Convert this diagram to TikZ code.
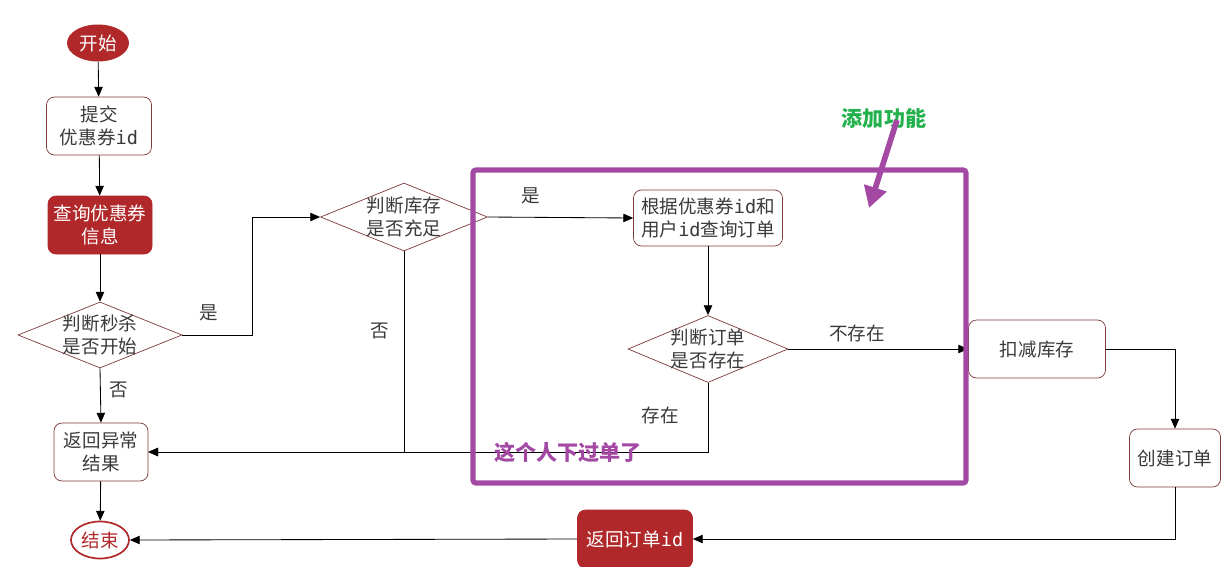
\documentclass[tikz,border=0pt]{standalone}
\usepackage{fontspec}
\setmainfont{Noto Sans CJK SC}
\newfontfamily\idfont{DejaVu Sans Mono}
\usetikzlibrary{shapes.geometric, arrows.meta}
\definecolor{flowRed}{HTML}{B0282A}
\definecolor{edgeRed}{HTML}{7D3A3A}
\definecolor{inkGray}{HTML}{3A3A3A}
\definecolor{markPurple}{HTML}{A349A4}
\definecolor{markGreen}{HTML}{22B14C}
\newcommand{\pxu}{0.025cm}
\newcommand{\idtxt}{{\idfont id}}
\tikzset{
    every node/.style={font=\fontsize{13.2}{16}\selectfont, text=inkGray, align=center},
    box/.style={draw=edgeRed, fill=white, rounded corners=0.2cm, line width=0.5pt,
        minimum width={#1*\pxu}, minimum height={58*\pxu}, inner sep=0pt},
    redbox/.style={box=#1, fill=flowRed, draw=flowRed, text=white},
    decision/.style={diamond, draw=edgeRed, fill=white, line width=0.5pt, inner sep=0pt},
    terminal/.style={ellipse, minimum width={#1*\pxu}, minimum height={37*\pxu}, inner sep=0pt},
    flow/.style={draw=black, line width=0.6pt, -{Triangle[length=7pt, width=6pt]}},
    tag/.style={font=\fontsize{15}{18}\selectfont\bfseries}
}

\begin{document}
\begin{tikzpicture}[x=0.025cm, y=-0.025cm]
    \useasboundingbox (0,0) rectangle (1221,566);

    % left column
    \node[terminal=62, fill=flowRed, text=white] (start) at (98,43) {开始};
    \node[box=105] (submit) at (99,126) {提交\\优惠券\idtxt};
    \node[redbox=104] (query) at (100,225) {查询优惠券\\信息};
    \node[decision, minimum width={164*\pxu}, minimum height={66*\pxu},
        label={center:判断秒杀\\是否开始}] (timing) at (100,335) {};
    \node[box=94] (errRet) at (101,452) {返回异常\\结果};
    \node[terminal=58, draw=flowRed, line width=1.2pt, fill=white, text=flowRed] (endNode) at (100,540) {结束};

    % stock and order checks
    \node[decision, minimum width={167*\pxu}, minimum height={68*\pxu},
        label={center:判断库存\\是否充足}] (stockCheck) at (404,217) {};
    \node[box=149, minimum height={56*\pxu}] (orderQuery) at (708,218) {根据优惠券\idtxt 和\\用户\idtxt 查询订单};
    \node[decision, minimum width={160*\pxu}, minimum height={67*\pxu},
        label={center:判断订单\\是否存在}] (orderCheck) at (708,349) {};
    \node[box=137] (deduct) at (1037,349) {扣减库存};
    \node[box=91] (create) at (1175,458) {创建订单};
    \node[redbox=115] (orderRet) at (635,539) {返回订单\idtxt};

    % connectors
    \draw[flow] (start) -- (submit);
    \draw[flow] (submit) -- (query);
    \draw[flow] (query) -- (timing);
    \draw[flow] (timing.east) -- ++(70,0) |- (stockCheck.west);
    \draw[flow] (timing.south) -- (errRet.north);
    \draw[flow] (stockCheck.east) -- (orderQuery.west);
    \draw[flow] (stockCheck.south) |- (errRet.east);
    \draw[flow] (orderQuery.south) -- (orderCheck.north);
    \draw[flow] (orderCheck.east) -- (deduct.west);
    \draw[flow] (orderCheck.south) |- (errRet.east);
    \draw[flow] (deduct.east) -| (create.north);
    \draw[flow] (create.south) |- (orderRet.east);
    \draw[flow] (orderRet.west) -- (endNode.east);
    \draw[flow] (errRet) -- (endNode);

    \node (yesTiming) at (209,313) {是};
    \node (noTiming) at (119,390) {否};
    \node (yesStock) at (531,196) {是};
    \node (noStock) at (380,331) {否};
    \node (notFound) at (857,333) {不存在};
    \node (found) at (660,415) {存在};

    % highlighted new part
    \draw[markPurple, line width=3.6pt, rounded corners=2pt] (473,170) rectangle (966,483);
    \node[tag, text=markGreen] (addText) at (884,118) {添加功能};
    \coordinate (arrowTip) at (869,208);
    \draw[markPurple, line width=4pt, -{Triangle[length=15pt, width=16pt]}]
        ([shift={(13,2)}]addText.center) -- (arrowTip);
    \node[tag, text=markPurple] (orderedText) at (568,452) {这个人下过单了};
\end{tikzpicture}
\end{document}
